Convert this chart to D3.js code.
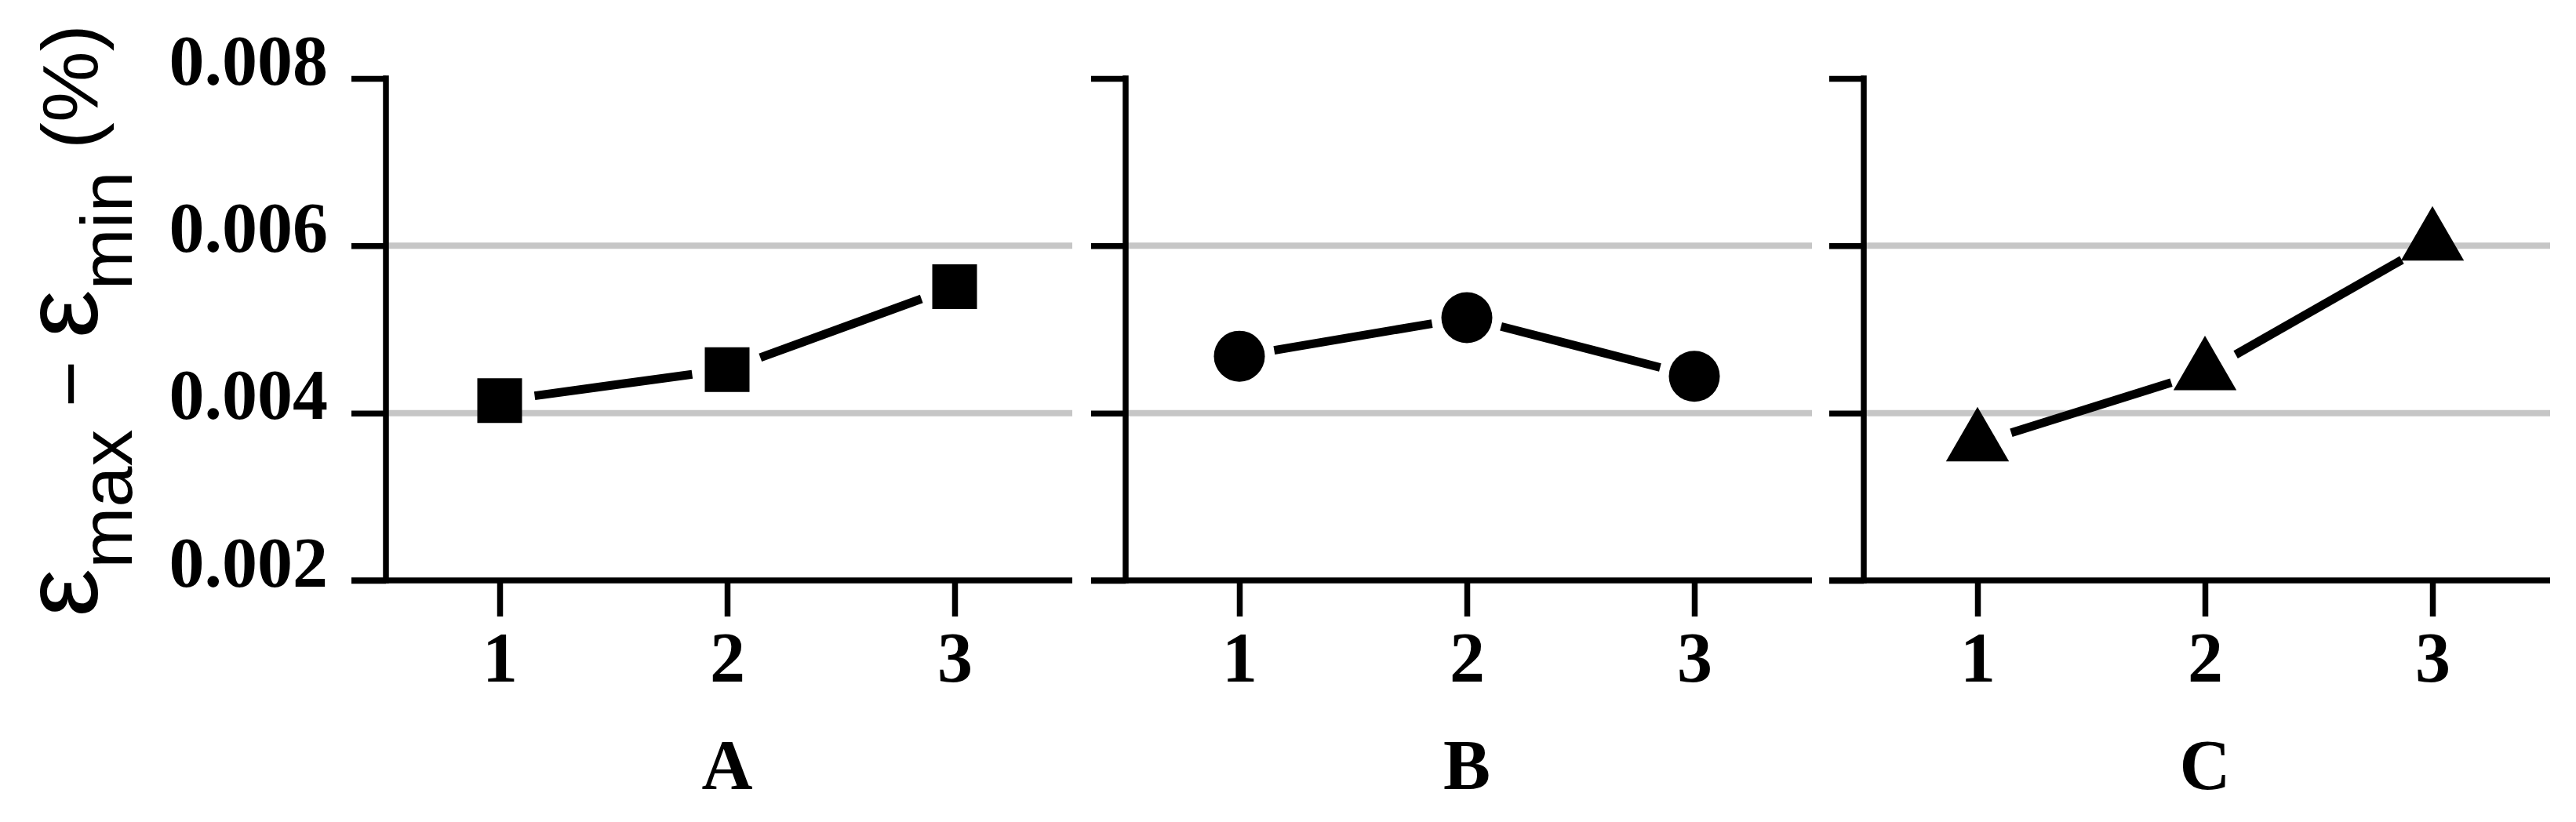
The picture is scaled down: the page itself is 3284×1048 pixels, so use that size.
<!DOCTYPE html>
<html>
<head>
<meta charset="utf-8">
<script src="https://cdn.jsdelivr.net/npm/d3@7"></script>
<style>
html,body{margin:0;padding:0;background:#fff;}
svg{display:block;background:#fff;}
</style>
</head>
<body>
<svg id="chart" width="3284" height="1048"></svg>
<script>
// ---- data ----
const panels = ["A", "B", "C"];
const levels = [1, 2, 3];
const valuesA = [0.00415, 0.00452, 0.00551];
const valuesB = [0.00468, 0.00514, 0.00444];
const valuesC = [0.00364, 0.00449, 0.00604];
const yTicks = [0.002, 0.004, 0.006, 0.008];
const gridTicks = [0.004, 0.006];
const markerTypes = ["square", "circle", "triangle"];

// ---- layout ----
const panelLeft = [492, 1435, 2376];
const panelWidth = 875;
const tickLen = 44;
const serif = "'Liberation Serif', 'Times New Roman', serif";
const sans = "'Liberation Sans', Arial, sans-serif";

const svg = d3.select("#chart");
const y = d3.scaleLinear().domain([0.002, 0.008]).range([740, 100]);
const x = d3.scaleLinear().domain([0.5, 3.5]).range([0, 870]);

const series = [valuesA, valuesB, valuesC];
const symbolFor = {
  square: d3.symbol().type(d3.symbolSquare).size(57 * 57),
  circle: d3.symbol().type(d3.symbolCircle).size(Math.PI * 32.5 * 32.5),
  triangle: d3.symbol().type(d3.symbolTriangle).size(2800)
};
const gap = 45;

panels.forEach((name, i) => {
  const g = svg.append("g").attr("transform", `translate(${panelLeft[i]},0)`);

  // gridlines
  g.selectAll("line.grid").data(gridTicks).join("line")
    .attr("class", "grid")
    .attr("x1", 0).attr("x2", panelWidth)
    .attr("y1", d => y(d)).attr("y2", d => y(d))
    .attr("stroke", "#c6c6c6").attr("stroke-width", 8);

  // y axis ticks + labels
  const ya = d3.axisLeft(y).tickValues(yTicks).tickSize(tickLen).tickSizeOuter(0)
    .tickFormat(i === 0 ? d3.format(".3f") : () => "");
  const yg = g.append("g").call(ya)
    .attr("font-family", serif).attr("font-size", 90).attr("font-weight", "bold");
  yg.select(".domain").remove();
  yg.selectAll(".tick line").attr("stroke", "#000").attr("stroke-width", 7.5);
  yg.selectAll(".tick text").attr("x", -tickLen - 30).attr("dy", null).attr("y", 7).attr("fill", "#000");

  // vertical axis line
  g.append("line")
    .attr("x1", 0).attr("x2", 0)
    .attr("y1", y(0.008)).attr("y2", y(0.002))
    .attr("stroke", "#000").attr("stroke-width", 7.5).attr("stroke-linecap", "square");

  // x axis
  const xa = d3.axisBottom(x).tickValues(levels).tickSize(46).tickSizeOuter(0).tickFormat(d3.format("d"));
  const xg = g.append("g").attr("transform", `translate(0,${y(0.002)})`).call(xa)
    .attr("font-family", serif).attr("font-size", 90).attr("font-weight", "bold");
  xg.select(".domain").remove();
  xg.selectAll(".tick line").attr("stroke", "#000").attr("stroke-width", 7.5);
  xg.selectAll(".tick text").attr("dy", null).attr("y", 129).attr("fill", "#000");

  g.append("line")
    .attr("x1", -tickLen).attr("x2", panelWidth)
    .attr("y1", y(0.002)).attr("y2", y(0.002))
    .attr("stroke", "#000").attr("stroke-width", 7.5);

  // panel label
  g.append("text")
    .attr("x", x(2)).attr("y", 1006)
    .attr("text-anchor", "middle")
    .attr("font-family", serif).attr("font-size", 90).attr("font-weight", "bold")
    .attr("fill", "#000")
    .text(name);

  // connecting line segments (with gaps near markers)
  const vals = series[i];
  const pts = levels.map((l, k) => [x(l), y(vals[k])]);
  const segs = d3.pairs(pts).map(([p, q]) => {
    const dx = q[0] - p[0], dy = q[1] - p[1];
    const len = Math.hypot(dx, dy);
    const ux = dx / len, uy = dy / len;
    return [[p[0] + ux * gap, p[1] + uy * gap], [q[0] - ux * gap, q[1] - uy * gap]];
  });
  g.selectAll("path.seg").data(segs).join("path")
    .attr("class", "seg")
    .attr("d", d3.line())
    .attr("fill", "none").attr("stroke", "#000").attr("stroke-width", 11);

  // markers
  g.selectAll("path.mark").data(pts).join("path")
    .attr("class", "mark")
    .attr("transform", d => `translate(${d[0]},${d[1]})`)
    .attr("d", symbolFor[markerTypes[i]]())
    .attr("fill", "#000");
});

// y title
const titleParts = [
  { t: "ε", size: 136, dy: 0 },
  { t: "max", size: 92, dy: 44 },
  { t: " − ", size: 100, dy: -44 },
  { t: "ε", size: 136, dy: 0 },
  { t: "min", size: 92, dy: 44 },
  { t: " (%)", size: 100, dy: -44 }
];
const title = svg.append("text")
  .attr("transform", "translate(124,409) rotate(-90) scale(1.02,1)")
  .attr("text-anchor", "middle")
  .attr("font-family", sans)
  .attr("font-size", 100)
  .attr("fill", "#000")
  .style("white-space", "pre");
title.selectAll("tspan").data(titleParts).join("tspan")
  .attr("font-size", d => d.size)
  .attr("dy", d => d.dy)
  .text(d => d.t);
</script>
</body>
</html>
